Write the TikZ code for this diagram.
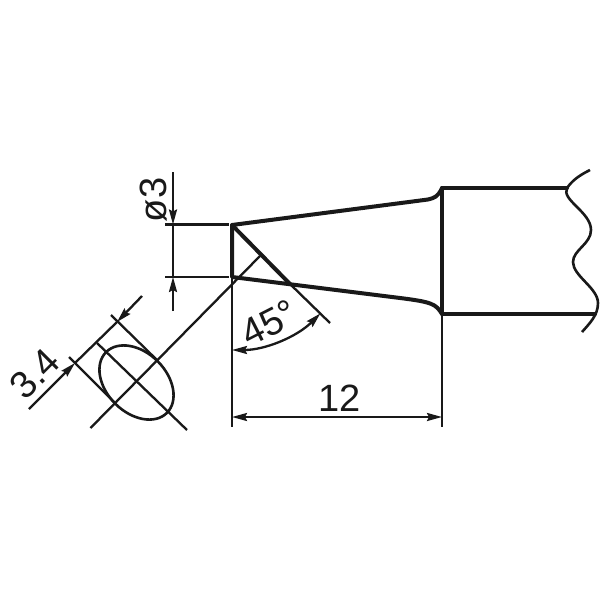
\documentclass[tikz,border=0pt]{standalone}
\usepackage{fontspec}
\setmainfont{Liberation Sans}
\usetikzlibrary{arrows.meta}
\tikzset{
  thickline/.style={line width=4pt,line join=round,line cap=round,color=black!90},
  thinline/.style={line width=2.3pt,color=black!90},
  midline/.style={line width=2.6pt,color=black!90},
  dimtip/.style={-{Stealth[length=15pt,width=8pt,inset=2pt]}},
  dimboth/.style={{Stealth[length=15pt,width=8pt,inset=2pt]}-{Stealth[length=15pt,width=8pt,inset=2pt]}},
  dimtext/.style={font=\fontsize{38}{38}\selectfont,inner sep=0pt,color=black!90},
}
\begin{document}
\begin{tikzpicture}[x=1pt,y=-1pt]
\useasboundingbox (0,0) rectangle (600,600);
\fill[white] (0,0) rectangle (600,600);
% tip outline
\draw[thickline] (442,188) .. controls (438,197) and (434,198) .. (428,199.5) -- (232,225) -- (232,277) -- (400,298) .. controls (432,302) and (436,304) .. (442,314);
\draw[thickline] (232,225) -- (290,284);
\draw[thickline] (567,188) -- (442,188) -- (442,314) -- (595,314);
% broken end
\draw[midline] (590,170) .. controls (578,176) and (572,181) .. (567,188)
  .. controls (561,200) and (591,212) .. (591,230)
  .. controls (591,244) and (573,250) .. (573,262)
  .. controls (573,276) and (598,288) .. (598,303)
  .. controls (598,315) and (590,323) .. (582,332);
% dia dimension
\draw[thinline] (165,224.5) -- (229,224.5);
\draw[thinline] (165,277) -- (229,277);
\draw[thinline] (173,224) -- (173,277);
\draw[thinline,dimtip] (173,172) -- (173,224.5);
\draw[thinline,dimtip] (173,311) -- (173,277);
\node[dimtext,rotate=90] (dia) at (154,200) {ø3};
% chamfer
\draw[thinline] (290,284) -- (330,323);
\draw[thinline] (260,256) -- (90.5,428);
% ellipse
\draw[midline,rotate around={-45:(136.5,382.5)}] (136.5,382.5) ellipse [x radius=43,y radius=30];
\draw[thinline] (97,343) -- (187,430);
\draw[thinline] (111,315) -- (157,360);
\draw[thinline] (69,357) -- (115,403);
\draw[thinline,dimtip] (142,296) -- (117,322);
\draw[thinline,dimtip] (29,409) -- (75,363);
\draw[thinline] (117,322) -- (75,363);
\node[dimtext,rotate=45] (wid) at (35,374) {3.4};
% angle
\draw[thinline,dimboth] (232,350) .. controls (265.15,350) and (296.95,336.83) .. (320.39,313.39);
\node[dimtext,rotate=27] (ang) at (269,323) {45°};
% length
\draw[thinline] (232,277) -- (232,427);
\draw[thinline] (442,314) -- (442,427);
\draw[thinline,dimboth] (232,417) -- (442,417);
\node[dimtext] (len) at (340,398) {12};
\end{tikzpicture}
\end{document}
